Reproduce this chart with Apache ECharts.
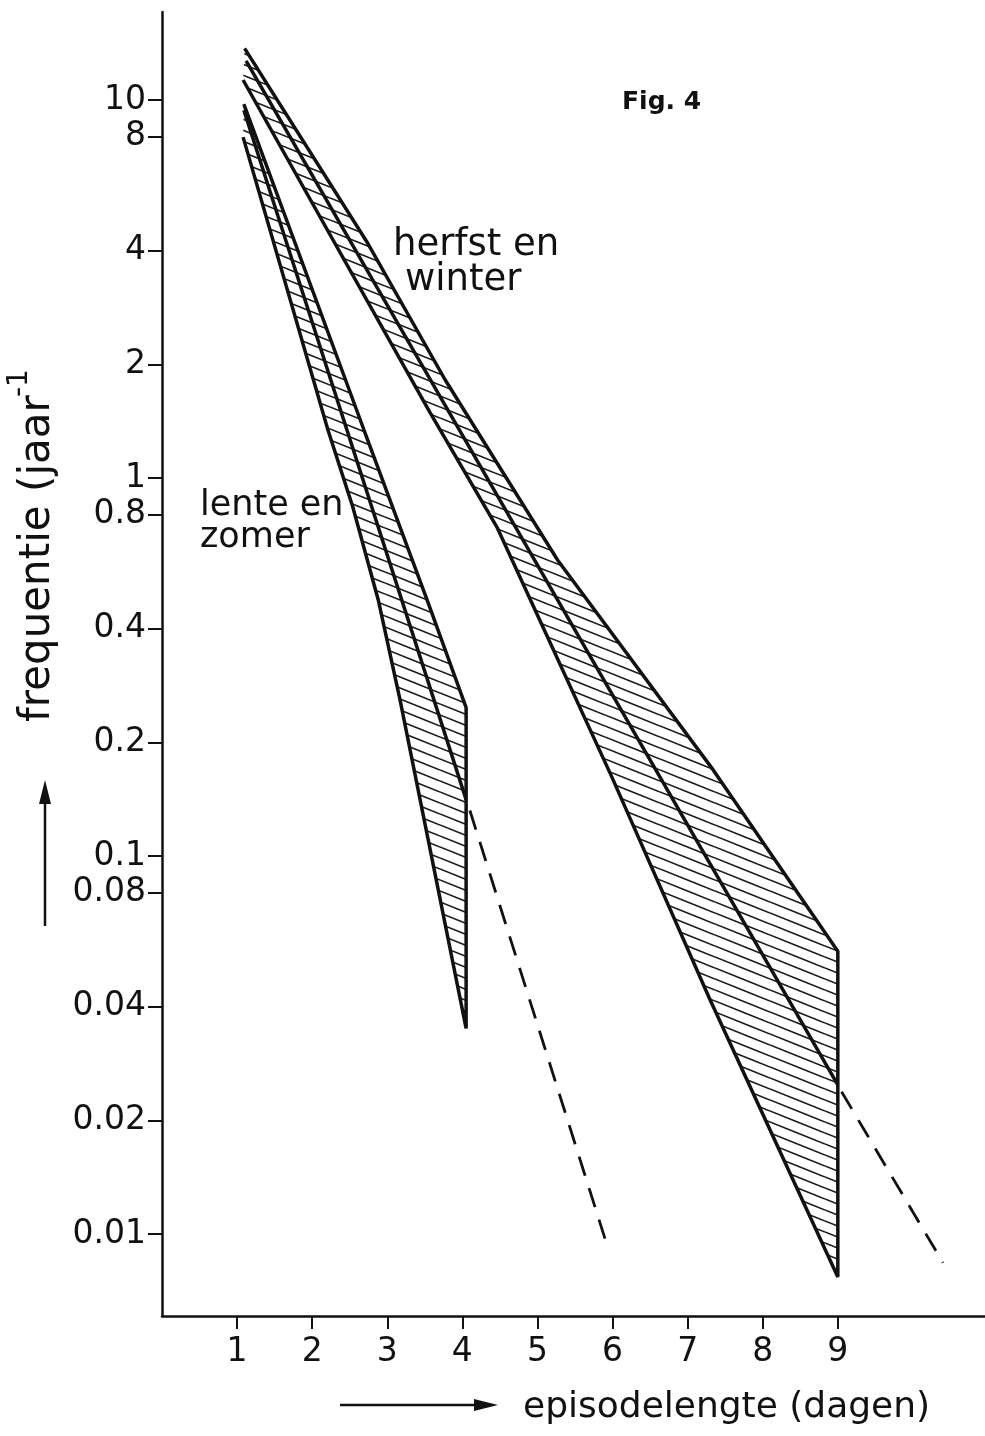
<!DOCTYPE html>
<html>
<head>
<meta charset="utf-8">
<title>Fig. 4</title>
<script src="https://cdn.jsdelivr.net/npm/echarts@6.0.0/dist/echarts.min.js"></script>
<style>
  html, body { margin: 0; padding: 0; background: #fff; }
  #chart { width: 985px; height: 1436px; }
</style>
</head>
<body>
<div id="chart"></div>
<script>
// tick values
const xTicks = [1, 2, 3, 4, 5, 6, 7, 8, 9];
const yTicks = [0.01, 0.02, 0.04, 0.08, 0.1, 0.2, 0.4, 0.8, 1, 2, 4, 8, 10];
const yMin = 0.00607;
const yMax = 17.1;

// herfst en winter: [episodelengte, frequentie]
const hwUpper = [[1.1, 13.7], [2.74, 4.18], [3.77, 1.82], [5.27, 0.606], [7.34, 0.169], [9, 0.056]];
const hwMid = [[1.12, 12.7], [9, 0.0248]];
const hwExt = [[9.05, 0.0238], [10.4, 0.0084]];
const hwLower = [[1.08, 11.3], [3.57, 1.49], [4.46, 0.742], [5.03, 0.421], [5.99, 0.162], [7.3, 0.0416], [9, 0.0077]];

// lente en zomer
const lzUpper = [[1.09, 9.76], [2.69, 1.34], [3.53, 0.476], [4.05, 0.247]];
const lzMid = [[1.09, 9.4], [4.05, 0.141]];
const lzExt = [[4.1, 0.132], [5.93, 0.0093]];
const lzLower = [[1.08, 7.98], [2.21, 1.34], [2.54, 0.84], [2.88, 0.476], [3.17, 0.259], [4.05, 0.035]];

const ink = "#111";
const font = '"DejaVu Sans", sans-serif';

function toLog(pts) {
  return pts.map(function (p) { return [p[0], Math.log10(p[1])]; });
}

// hatch pattern, lines falling to the right
function hatchCanvas() {
  const c = document.createElement("canvas");
  c.width = 55;
  c.height = 11;
  const ctx = c.getContext("2d");
  ctx.strokeStyle = "#1a1a1a";
  ctx.lineWidth = 1.6;
  for (let k = -3; k <= 1; k++) {
    ctx.beginPath();
    ctx.moveTo(0, k * 11);
    ctx.lineTo(55, k * 11 + 22);
    ctx.stroke();
  }
  return c;
}
const hatch = { image: hatchCanvas(), repeat: "repeat" };

function band(upper, lower) {
  const pts = toLog(upper.concat(lower.slice().reverse()));
  return {
    type: "custom",
    silent: true,
    z: 1,
    data: pts,
    renderItem: function (params, api) {
      if (params.dataIndex !== 0) return null;
      return {
        type: "polygon",
        shape: { points: pts.map(function (p) { return api.coord(p); }) },
        style: { fill: hatch, stroke: null }
      };
    }
  };
}

function line(pts, dashed) {
  return {
    type: "line",
    data: toLog(pts),
    symbol: "none",
    z: 3,
    lineStyle: {
      color: ink,
      width: dashed ? 2.8 : 3.5,
      type: dashed ? [20, 13] : "solid"
    }
  };
}

const chart = echarts.init(document.getElementById("chart"));

function label(text, x, y, size, extra) {
  return Object.assign({
    type: "text", x: x, y: y,
    style: { text: text, font: size + "px " + font, fill: ink, textAlign: "left", textVerticalAlign: "middle", align: "left", verticalAlign: "middle" }
  }, extra || {});
}

const option = {
  animation: false,
  backgroundColor: "#fff",
  grid: { left: 162, right: 0, top: 12, bottom: 120 },
  xAxis: {
    type: "value",
    min: 0,
    max: 10.96,
    splitLine: { show: false },
    axisLine: { onZero: false, lineStyle: { color: ink, width: 2.5 } },
    axisTick: { customValues: xTicks, length: 13, lineStyle: { color: ink, width: 2 } },
    axisLabel: { customValues: xTicks, margin: 20, color: ink, fontSize: 33, fontFamily: font }
  },
  yAxis: {
    type: "value",
    min: Math.log10(yMin),
    max: Math.log10(yMax),
    splitLine: { show: false },
    axisLine: { show: true, onZero: false, lineStyle: { color: ink, width: 2.5 } },
    axisTick: { customValues: yTicks.map(Math.log10), length: 14, lineStyle: { color: ink, width: 2 } },
    axisLabel: {
      customValues: yTicks.map(Math.log10),
      margin: 16,
      color: ink,
      fontSize: 33,
      fontFamily: font,
      formatter: function (v) { return String(+Math.pow(10, v).toPrecision(3)); }
    }
  },
  series: [
    band(hwUpper, hwLower),
    band(lzUpper, lzLower),
    line(hwUpper.concat(hwLower.slice().reverse())),
    line(hwMid),
    line(hwExt, true),
    line(lzUpper.concat(lzLower.slice().reverse())),
    line(lzMid),
    line(lzExt, true)
  ],
  graphic: [
    { type: "text", x: 622, y: 102, style: { text: "Fig. 4", font: "bold 25px " + font, fill: ink, textAlign: "left", textVerticalAlign: "middle", align: "left", verticalAlign: "middle" } },
    label("herfst en", 393, 245, 37),
    label("winter", 405, 280, 37),
    label("lente en", 200, 506, 35),
    label("zomer", 200, 538, 35),
    label("episodelengte (dagen)", 523, 1408, 36),
    label("frequentie (jaar", 38, 722, 42, { rotation: Math.PI / 2 }),
    label("-1", 20, 397, 28, { rotation: Math.PI / 2 }),
    // arrows
    { type: "line", shape: { x1: 340, y1: 1405, x2: 478, y2: 1405 }, style: { stroke: ink, lineWidth: 2.5 } },
    { type: "polygon", shape: { points: [[474, 1399], [498, 1405], [474, 1411]] }, style: { fill: ink } },
    { type: "line", shape: { x1: 45, y1: 926, x2: 45, y2: 800 }, style: { stroke: ink, lineWidth: 2.5 } },
    { type: "polygon", shape: { points: [[39, 804], [45, 780], [51, 804]] }, style: { fill: ink } }
  ]
};

chart.setOption(option);
</script>
</body>
</html>
